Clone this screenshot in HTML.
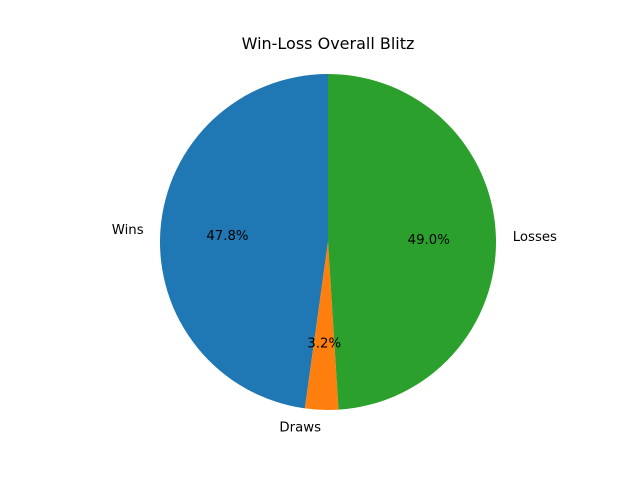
<!DOCTYPE html>
<html><head><meta charset="utf-8"><style>
body{margin:0;background:#fff}
svg text{font-family:"DejaVu Sans","Liberation Sans",sans-serif;fill:#000}
</style></head><body>
<svg width="640" height="480" xmlns="http://www.w3.org/2000/svg">
<text x="328" y="49" font-size="16" text-anchor="middle">Win-Loss Overall Blitz</text>
<g id="slices"></g>
</svg>
<script>
const labels = ["Wins","Draws","Losses"];
const values = [47.8,3.2,49.0];
const colors = ["#1f77b4","#ff7f0e","#2ca02c"];
const cx=328, cy=242, r=168;
const svg=document.querySelector('svg'), g=document.getElementById('slices');
const ns="http://www.w3.org/2000/svg";
const total=values.reduce((a,b)=>a+b,0);
let a0=90;
function pt(a,rr){const t=a*Math.PI/180;return [cx+rr*Math.cos(t), cy-rr*Math.sin(t)];}
const texts=[];
values.forEach((v,i)=>{
  const sweep=v/total*360, a1=a0+sweep;
  const p0=pt(a0,r), p1=pt(a1,r);
  const path=document.createElementNS(ns,'path');
  path.setAttribute('d',`M${cx},${cy} L${p0[0]},${p0[1]} A${r},${r} 0 ${sweep>180?1:0} 0 ${p1[0]},${p1[1]} Z`);
  path.setAttribute('fill',colors[i]);
  
  
  g.appendChild(path);
  const m=(a0+a1)/2;
  const lp=pt(m,r*1.1);
  const lt=document.createElementNS(ns,'text');
  lt.setAttribute('x',lp[0]);lt.setAttribute('y',lp[1]+5);
  lt.setAttribute('font-size','13.3');
  lt.setAttribute('text-anchor',Math.cos(m*Math.PI/180)<0?'end':'start');
  lt.textContent=labels[i];
  
  
  texts.push(lt);
  const pp=pt(m,r*0.6);
  const pt2=document.createElementNS(ns,'text');
  pt2.setAttribute('x',pp[0]);pt2.setAttribute('y',pp[1]+5);
  pt2.setAttribute('font-size','13.3');
  pt2.setAttribute('text-anchor','middle');
  pt2.textContent=(v/total*100).toFixed(1)+'%';
  
  
  texts.push(pt2);
  a0=a1;
});
texts.forEach(t=>svg.appendChild(t));
</script>
</body></html>
